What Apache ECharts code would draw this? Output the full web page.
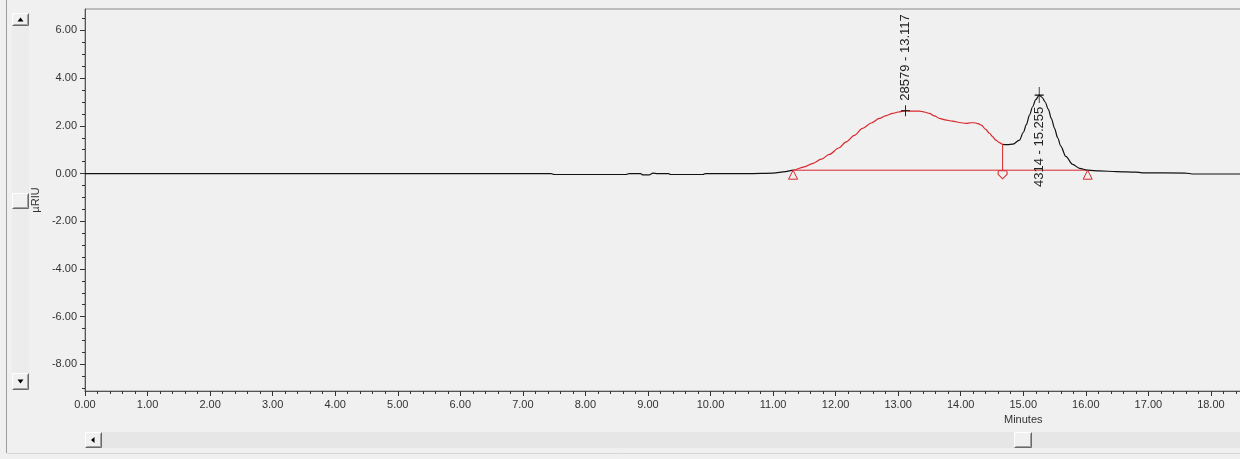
<!DOCTYPE html>
<html>
<head>
<meta charset="utf-8">
<script src="https://cdn.jsdelivr.net/npm/echarts@6/dist/echarts.min.js"></script>
<style>
  html, body { margin: 0; padding: 0; background: #f0f0f0; }
  #chart { width: 1240px; height: 459px; }
</style>
</head>
<body>
<div id="chart"></div>
<script>
// Refractive index detector trace: retention time (min) and response (µRIU)
const minutes = [
  0.00, 1.00, 2.00, 3.00, 4.00, 5.00, 6.00, 7.00, 7.45, 7.50, 8.65, 8.70,
  8.88, 8.92, 9.02, 9.08, 9.15, 9.33, 9.36, 9.88, 9.92, 10.60, 11.00, 11.20,
  11.32, 11.50, 11.64, 11.77, 11.90, 12.05, 12.17, 12.30, 12.43, 12.57, 12.70,
  12.81, 12.91, 13.00, 13.117, 13.20, 13.34, 13.42, 13.50, 13.58, 13.66, 13.75,
  13.87, 13.98, 14.09, 14.16, 14.22, 14.28, 14.33, 14.40, 14.46, 14.51, 14.56,
  14.62, 14.67, 14.75, 14.83, 14.94, 15.00, 15.05, 15.10, 15.15, 15.20, 15.255,
  15.30, 15.35, 15.40, 15.45, 15.50, 15.55, 15.60, 15.68, 15.79, 15.90, 16.03,
  16.22, 16.49, 16.80, 16.90, 17.60, 17.70, 18.60, 20.00
];
const riu = [
  0.00, 0.00, 0.00, 0.00, 0.00, 0.00, 0.00, 0.00, 0.00, -0.04, -0.04, 0.00,
  0.00, -0.06, -0.06, 0.02, 0.00, 0.00, -0.04, -0.04, 0.00, 0.00, 0.02, 0.08,
  0.14, 0.28, 0.43, 0.60, 0.80, 1.07, 1.33, 1.60, 1.89, 2.12, 2.31,
  2.43, 2.52, 2.58, 2.63, 2.62, 2.62, 2.58, 2.52, 2.42, 2.31, 2.25,
  2.20, 2.14, 2.10, 2.13, 2.13, 2.09, 2.03, 1.85, 1.69, 1.55, 1.40,
  1.30, 1.22, 1.21, 1.23, 1.40, 1.72, 2.05, 2.45, 2.80, 3.10, 3.29,
  3.20, 3.00, 2.70, 2.30, 1.90, 1.50, 1.15, 0.72, 0.38, 0.22, 0.14,
  0.11, 0.08, 0.06, 0.03, 0.02, -0.02, -0.02, -0.02
];

// Integrated peaks: apex time, apex height, area
const peakTimes = [13.117, 15.255];
const peakHeights = [2.63, 3.29];
const peakAreas = [28579, 4314];

// Integration events: baseline start, valley drop, baseline end
const baselineLevel = 0.14;
const peakStart = 11.32;
const valleyTime = 14.67;
const valleyHeight = 1.22;
const peakEnd = 16.03;

// Axis tick values
const yLabelValues = [-8, -6, -4, -2, 0, 2, 4, 6];
const yMinorValues = [-9, -8.5, -8, -7.5, -7, -6.5, -6, -5.5, -5, -4.5, -4, -3.5, -3,
  -2.5, -2, -1.5, -1, -0.5, 0, 0.5, 1, 1.5, 2, 2.5, 3, 3.5, 4, 4.5, 5, 5.5, 6, 6.5];

const RED = '#d8262b';
const INK = '#111111';
const AXIS = '#555555';
const FONT = 'Liberation Sans, Arial, sans-serif';

const trace = minutes.map((t, i) => [t, riu[i]]);

// Window chrome: scroll bars drawn around the plot
function button(x, y, w, h, arrow) {
  const items = [
    { type: 'rect', shape: { x: x, y: y, width: w, height: h }, style: { fill: '#f0f0f0' } },
    { type: 'polyline', shape: { points: [[x + 0.5, y + h - 0.5], [x + 0.5, y + 0.5], [x + w - 0.5, y + 0.5]] }, style: { stroke: '#ffffff', fill: null } },
    { type: 'polyline', shape: { points: [[x + 1.5, y + h - 1.5], [x + w - 1.5, y + h - 1.5], [x + w - 1.5, y + 1.5]] }, style: { stroke: '#a0a0a0', fill: null } },
    { type: 'polyline', shape: { points: [[x + 0.5, y + h - 0.5], [x + w - 0.5, y + h - 0.5], [x + w - 0.5, y + 0.5]] }, style: { stroke: '#6a6a6a', fill: null } }
  ];
  if (arrow) {
    items.push({ type: 'polygon', shape: { points: arrow }, style: { fill: '#000000' } });
  }
  return items;
}

const chrome = [].concat(
  [
    { type: 'line', shape: { x1: 6.5, y1: 0, x2: 6.5, y2: 453 }, style: { stroke: '#9c9c9c', lineWidth: 1 } },
    { type: 'rect', shape: { x: 12, y: 26, width: 17, height: 347 }, style: { fill: '#ececec' } },
    { type: 'rect', shape: { x: 85, y: 432, width: 1160, height: 16 }, style: { fill: '#e6e6e6' } },
    { type: 'line', shape: { x1: 7, y1: 453.5, x2: 1240, y2: 453.5 }, style: { stroke: '#d6d6d6', lineWidth: 1 } }
  ],
  button(12, 13, 17, 13, [[17.5, 21.5], [23.5, 21.5], [20.5, 17.5]]),
  button(12, 193, 17, 16, null),
  button(12, 373, 17, 17, [[17.5, 379.5], [23.5, 379.5], [20.5, 383.5]]),
  button(85, 432, 17, 16, [[94.5, 437], [94.5, 443], [91, 440]]),
  button(1014, 432, 18, 16, null)
);

const chart = echarts.init(document.getElementById('chart'), null, { renderer: 'canvas' });

chart.setOption({
  animation: false,
  backgroundColor: '#f0f0f0',
  textStyle: { fontFamily: FONT },
  grid: {
    left: 85, top: 9, width: 1876.5, height: 382,
    containLabel: false, outerBoundsMode: 'none',
    show: true, borderColor: '#8a8a8a', borderWidth: 1, backgroundColor: 'transparent'
  },
  xAxis: {
    type: 'value', min: 0, max: 30, interval: 1,
    name: 'Minutes', nameLocation: 'middle', nameGap: 23,
    nameTextStyle: { fontSize: 11, color: '#333', fontFamily: FONT },
    axisLine: { show: true, onZero: false, lineStyle: { color: AXIS, width: 1 } },
    axisTick: { show: true, length: 5, lineStyle: { color: '#333' } },
    minorTick: { show: true, splitNumber: 5, length: 3, lineStyle: { color: '#333' } },
    axisLabel: { fontSize: 11, color: '#333', margin: 8, fontFamily: FONT, formatter: v => v.toFixed(2) },
    splitLine: { show: false }
  },
  yAxis: [
    {
      type: 'value', min: -9.12, max: 6.9, position: 'left',
      name: 'µRIU', nameLocation: 'middle', nameGap: 38,
      nameTextStyle: { fontSize: 11, color: '#333', fontFamily: FONT },
      axisLine: { show: true, onZero: false, lineStyle: { color: AXIS, width: 1 } },
      axisTick: { show: true, length: 5, customValues: yLabelValues, lineStyle: { color: '#333' } },
      axisLabel: { fontSize: 11, color: '#333', margin: 8, fontFamily: FONT, customValues: yLabelValues, formatter: v => v.toFixed(2) },
      splitLine: { show: false }
    },
    {
      type: 'value', min: -9.12, max: 6.9, position: 'left',
      axisLine: { show: false },
      axisTick: { show: true, length: 3, customValues: yMinorValues, lineStyle: { color: '#333' } },
      axisLabel: { show: false },
      splitLine: { show: false }
    }
  ],
  visualMap: {
    show: false, type: 'piecewise', dimension: 0, seriesIndex: 0,
    pieces: [{ gte: peakStart, lte: valleyTime, color: RED }],
    outOfRange: { color: INK }
  },
  series: [
    {
      name: 'RI', type: 'line', data: trace, symbol: 'none',
      smooth: 0.3, smoothMonotone: 'x',
      lineStyle: { width: 1.2 }, z: 3, silent: true
    },
    {
      name: 'baseline', type: 'line', symbol: 'none', silent: true, z: 2,
      data: [[peakStart, baselineLevel], [peakEnd, baselineLevel]],
      lineStyle: { color: RED, width: 1 }
    },
    {
      name: 'drop', type: 'line', symbol: 'none', silent: true, z: 2,
      data: [[valleyTime, baselineLevel], [valleyTime, valleyHeight]],
      lineStyle: { color: RED, width: 1 }
    },
    {
      name: 'bounds', type: 'scatter', silent: true, z: 4,
      data: [[peakStart, baselineLevel], [peakEnd, baselineLevel]],
      symbol: 'triangle', symbolSize: [9, 9], symbolOffset: [0, 4.5],
      itemStyle: { color: '#f0f0f0', borderColor: RED, borderWidth: 1, opacity: 1 }
    },
    {
      name: 'valley', type: 'scatter', silent: true, z: 4,
      data: [[valleyTime, baselineLevel]],
      symbol: 'path://M1,0 L9,0 Q10,0 10,2 L10,4 L5,9 L0,4 L0,2 Q0,0 1,0 Z',
      symbolSize: [9, 8], symbolOffset: [0, 4.5],
      itemStyle: { color: '#f0f0f0', borderColor: RED, borderWidth: 1, opacity: 1 }
    },
    {
      name: 'peaks', type: 'scatter', silent: true, z: 5,
      symbol: 'path://M5,0 L5,12 M0,6 L10,6',
      itemStyle: { color: 'transparent', borderColor: INK, borderWidth: 1, opacity: 1 },
      data: [
        {
          value: [peakTimes[0], peakHeights[0]], symbolSize: [9, 11],
          label: {
            show: true, position: 'top', distance: 4, rotate: 90, align: 'left', verticalAlign: 'middle',
            fontSize: 13, color: '#222', fontFamily: FONT,
            formatter: peakAreas[0] + ' - ' + peakTimes[0].toFixed(3)
          }
        },
        {
          value: [peakTimes[1], peakHeights[1]], symbolSize: [9, 16],
          label: {
            show: true, position: 'bottom', distance: 3, rotate: 90, align: 'right', verticalAlign: 'middle',
            fontSize: 13, color: '#222', fontFamily: FONT,
            formatter: peakAreas[1] + ' - ' + peakTimes[1].toFixed(3)
          }
        }
      ]
    }
  ],
  graphic: chrome
});
</script>
</body>
</html>
